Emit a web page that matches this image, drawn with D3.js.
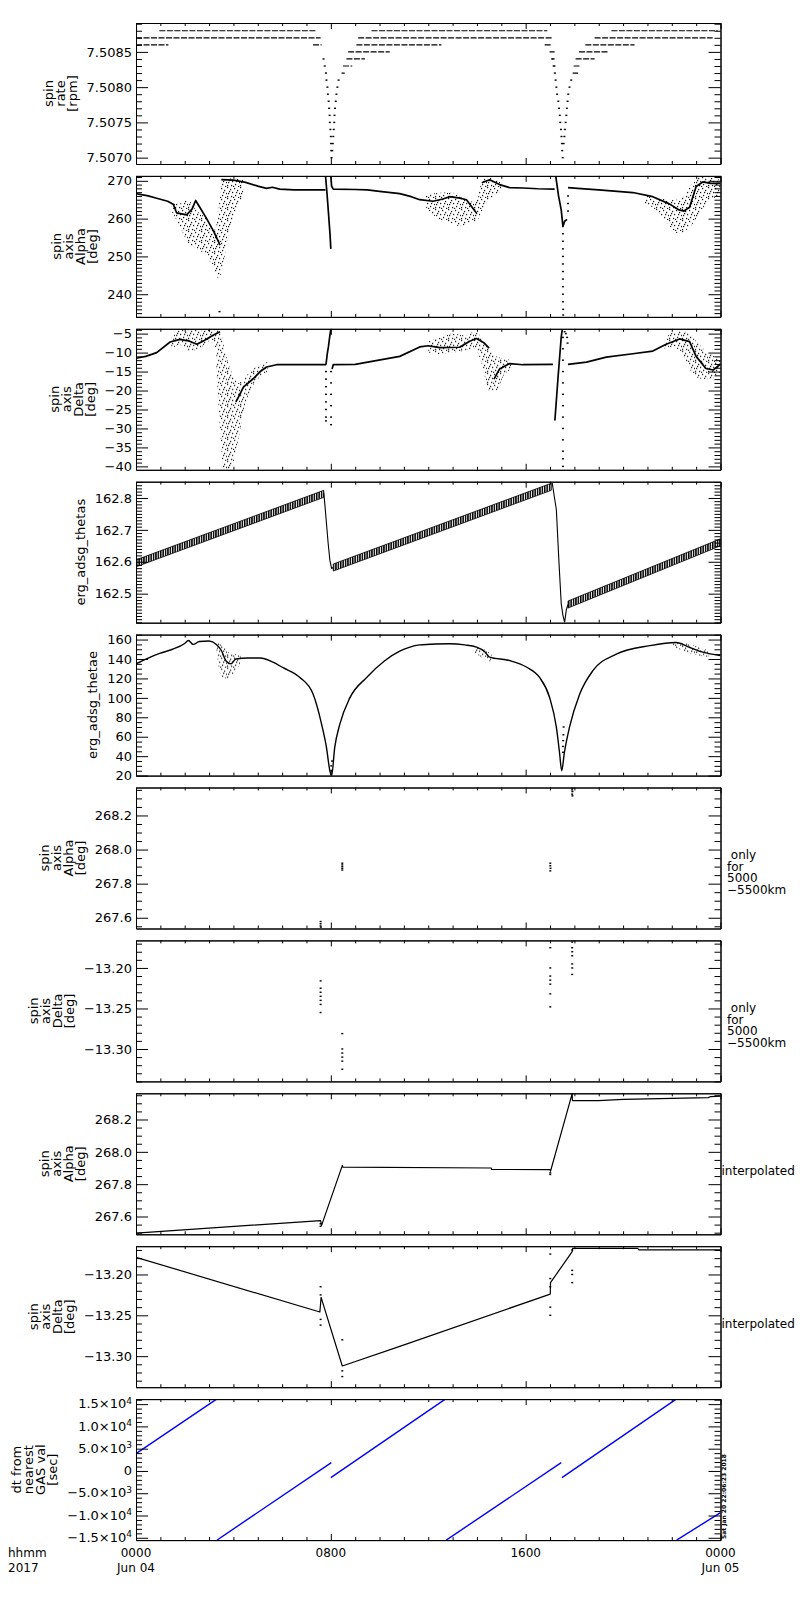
<!DOCTYPE html>
<html>
<head>
<meta charset="utf-8">
<script src="https://cdn.jsdelivr.net/npm/d3@7"></script>
<style>
  body { margin: 0; background: #fff; }
  svg text { font-family: "DejaVu Sans", sans-serif; fill: #000; }
</style>
</head>
<body>
<script>
// ---- time axis (hours of 2017-06-04) ----
var hoursMajor = [0, 8, 16, 24];
var hourLabels = ["0000", "0800", "1600", "0000"];
var dayLabels = ["Jun 04", "", "", "Jun 05"];

// ---- panel 1 : spin rate, quantized levels [start h, end h, rpm] ----
var rateLevels = [
  [0.96, 7.38, 7.5088], [9.67, 16.89, 7.5088], [19.52, 23.88, 7.5088],
  [0, 7.58, 7.5087], [9.12, 17.08, 7.5087], [18.83, 23.68, 7.5087],
  [0, 1.33, 7.5086], [7.27, 7.62, 7.5086], [9.05, 12.54, 7.5086], [16.78, 17.09, 7.5086], [18.45, 20.47, 7.5086],
  [8.71, 10.42, 7.5085], [16.98, 17.19, 7.5085], [18.19, 19.42, 7.5085],
  [8.64, 9.40, 7.5084], [17.09, 17.19, 7.5084], [18.05, 18.83, 7.5084],
  [8.50, 8.88, 7.5083], [17.15, 17.23, 7.5083], [17.97, 18.21, 7.5083],
  [8.44, 8.57, 7.5082], [17.93, 18.15, 7.5082]
];
var rateDipPts = [
  [7.70, 7.5084], [7.75, 7.5083], [7.80, 7.5082], [7.82, 7.5081], [7.86, 7.5080], [7.88, 7.5079],
  [7.91, 7.5078], [7.93, 7.5077], [7.95, 7.5076], [7.96, 7.5075], [7.98, 7.5074], [8.00, 7.5073],
  [8.01, 7.5072], [8.02, 7.5071], [8.03, 7.5070],
  [8.06, 7.5071], [8.08, 7.5072], [8.10, 7.5073], [8.12, 7.5074], [8.14, 7.5075], [8.15, 7.5076],
  [8.17, 7.5077], [8.20, 7.5078], [8.23, 7.5079], [8.27, 7.5080], [8.32, 7.5081],
  [17.09, 7.5084], [17.15, 7.5083], [17.20, 7.5082], [17.23, 7.5081], [17.26, 7.5080], [17.29, 7.5079],
  [17.34, 7.5078], [17.37, 7.5077], [17.40, 7.5076], [17.42, 7.5075], [17.45, 7.5074], [17.47, 7.5073],
  [17.49, 7.5072], [17.50, 7.5071], [17.52, 7.5070],
  [17.56, 7.5072], [17.59, 7.5073], [17.61, 7.5074], [17.64, 7.5075], [17.67, 7.5076], [17.69, 7.5077],
  [17.72, 7.5078], [17.75, 7.5079], [17.80, 7.5080], [17.87, 7.5081]
];

// ---- panel 2 : spin axis alpha [deg] ----
var alphaLines = [
  [[0, 266.6], [0.5, 266], [0.85, 265.4], [1.3, 264.6], [1.53, 263.8], [1.67, 261.5], [2.08, 261], [2.3, 262.5],
   [2.45, 264.8], [2.6, 263.2], [2.9, 260], [3.2, 256.5], [3.45, 253]],
  [[3.5, 270.3], [4.0, 270.2], [4.5, 269.6], [5.0, 268.6], [5.36, 268], [5.6, 268.3], [5.9, 267.8], [6.5, 267.6], [7.78, 267.6]],
  [[7.78, 271.5], [7.85, 266], [7.92, 260], [7.97, 255.5], [8.0, 252]],
  [[8.0, 271.5], [8.03, 268.6], [8.1, 267.8], [9.0, 267.7], [9.5, 267.6], [10.0, 267.2], [10.83, 266.6], [11.3, 265.8],
   [11.65, 265.0], [12.2, 264.6], [12.6, 265.2], [12.88, 265.8], [13.3, 265.4], [13.57, 265.0], [13.8, 263], [13.98, 261.5]],
  [[14.2, 269.5], [14.52, 270.3], [14.93, 269], [15.34, 268.2], [15.89, 268.1], [16.5, 267.9], [17.19, 267.8]],
  [[17.23, 271.5], [17.35, 266], [17.46, 262.3], [17.53, 257.9], [17.6, 259.3], [17.7, 259.8]],
  [[17.74, 268.2], [18.13, 268.0], [19.0, 267.6], [20.4, 266.9], [21.22, 265.8], [21.9, 263.9], [22.3, 262.3],
   [22.5, 262], [22.73, 263], [23.0, 268.5], [23.27, 269.7], [23.6, 269.3], [24, 269.4]]
];
var alphaClouds = [
  [[1.45, 262, 264], [1.8, 258, 264], [2.1, 254, 265], [2.5, 252, 262], [2.9, 250, 260], [3.25, 246, 257],
   [3.4, 244, 263], [3.55, 247, 270.6], [3.8, 256, 270.6], [4.1, 262, 270.6], [4.4, 266, 270.2]],
  [[11.9, 263, 266.5], [12.4, 260, 266.8], [12.9, 259, 267], [13.3, 258, 266], [13.7, 259, 264.5], [14.0, 259.5, 265],
   [14.2, 262, 270], [14.4, 264, 271], [14.7, 266, 270.5], [15.0, 267, 269.5]],
  [[20.9, 264, 266.5], [21.4, 262, 265.5], [21.9, 258, 265], [22.3, 256, 265], [22.6, 257, 267], [22.9, 259, 270],
   [23.2, 262, 271], [23.6, 265, 270.8], [24, 266, 270.2]]
];
var alphaPts = [
  [3.43, 235.4], [17.53, 256], [17.53, 254], [17.53, 252], [17.53, 250], [17.53, 248], [17.53, 246], [17.53, 244],
  [17.53, 242], [17.53, 240], [17.53, 238], [17.54, 236], [17.54, 234.5], [17.74, 262], [17.74, 264], [17.74, 266]
];

// ---- panel 3 : spin axis delta [deg] ----
var deltaLines = [
  [[0, -11.5], [0.4, -11], [0.85, -10], [1.4, -7.2], [1.8, -6.5], [2.2, -7.0], [2.5, -7.8], [2.8, -6.8], [3.2, -5.3], [3.45, -4.5]],
  [[4.1, -23], [4.2, -21.8], [4.41, -19.1], [4.81, -16.9], [5.1, -15], [5.36, -13.8], [5.77, -13.2], [6.45, -13.2], [7.8, -13.2]],
  [[7.8, -13.2], [7.85, -10.5], [7.9, -8.5], [7.96, -5.5], [8.0, -3.8]],
  [[8.05, -14.3], [8.1, -13.2], [9.0, -13.1], [9.8, -12.2], [10.83, -11], [11.65, -8.5], [12.0, -8.2], [12.47, -8.7],
   [13.29, -8.6], [13.7, -7], [13.98, -6.3], [14.3, -7.5], [14.5, -8.8]],
  [[14.7, -17], [14.93, -14.3], [15.34, -12.9], [15.89, -13.2], [17.12, -13.1]],
  [[17.2, -27.9], [17.33, -16.5], [17.46, -5.9], [17.5, -4]],
  [[17.74, -13.1], [18.5, -12.5], [19.31, -11.2], [20.4, -10.3], [21.22, -9.6], [21.77, -7.8], [22.32, -6.4],
   [22.73, -7.1], [23.0, -11], [23.4, -14.2], [23.7, -14.6], [24, -13]]
];
var deltaClouds = [
  [[1.45, -9, -6], [1.8, -8, -4], [2.2, -9.5, -4], [2.6, -9, -4], [3.0, -7, -4], [3.3, -9, -3.8]],
  [[3.3, -14, -3.8], [3.45, -30, -3.8], [3.6, -40.8, -8], [3.8, -40.8, -13], [4.0, -39, -16], [4.2, -33, -18],
   [4.4, -26, -17], [4.7, -20, -15], [5.0, -17, -13.5], [5.4, -15, -12.5]],
  [[12.0, -10, -7], [12.5, -10.5, -6], [13.0, -10, -5], [13.5, -9.5, -5.5], [13.9, -9, -4.5], [14.2, -13, -6],
   [14.5, -20, -9], [14.8, -20, -11], [15.1, -16, -11.5], [15.4, -14.5, -12]],
  [[21.7, -9, -6.5], [22.0, -8.5, -4.8], [22.4, -10, -4.3], [22.7, -14, -5], [23.0, -16.5, -7], [23.4, -17, -9.5],
   [23.8, -16.5, -11], [24, -15.5, -11.5]]
];
var deltaPts = [
  [7.8, -15], [7.8, -17], [7.8, -19], [7.8, -21], [7.8, -23], [7.8, -25], [7.8, -27], [7.8, -28],
  [8.01, -15], [8.01, -18], [8.01, -21], [8.01, -24], [8.01, -27], [8.01, -29],
  [17.53, -6], [17.53, -9], [17.53, -12], [17.53, -15], [17.53, -18], [17.53, -21], [17.53, -24], [17.53, -27],
  [17.53, -30], [17.53, -33], [17.53, -36], [17.53, -38], [17.53, -40],
  [17.6, -4.5], [17.65, -5], [17.7, -6], [17.72, -7.5]
];

// ---- panel 4 : erg_adsg_thetas, nutation band [h, low, high] ----
var thetasBands = [
  [[0, 162.584, 162.606], [7.71, 162.802, 162.824]],
  [[8.1, 162.571, 162.593], [17.05, 162.824, 162.846]],
  [[17.74, 162.455, 162.477], [24, 162.650, 162.672]]
];
var thetasLines = [
  [[7.71, 162.816], [7.75, 162.784], [7.89, 162.658], [7.96, 162.605], [8.03, 162.579], [8.1, 162.582]],
  [[17.09, 162.847], [17.26, 162.763], [17.37, 162.595], [17.46, 162.469], [17.53, 162.432], [17.6, 162.41],
   [17.67, 162.45], [17.74, 162.466]]
];

// ---- panel 5 : erg_adsg_thetae ----
var thetaeLine = [
  [0, 135], [0.5, 141], [1.0, 146], [1.5, 150], [2.0, 156], [2.15, 159], [2.35, 155], [2.6, 158], [3.0, 158.5],
  [3.3, 155], [3.5, 149], [3.7, 138], [3.9, 135], [4.1, 140], [4.6, 141], [5.1, 141], [5.6, 137], [6.04, 131],
  [6.73, 121], [7.27, 104], [7.62, 73], [7.82, 49], [7.96, 25], [8.03, 19.5], [8.16, 49], [8.37, 73], [8.78, 100],
  [9.47, 121], [10.2, 138], [10.83, 148], [11.65, 154.5], [12.3, 155.5], [12.88, 155.7], [13.5, 154.5],
  [13.98, 152.3], [14.3, 148], [14.52, 142], [15.34, 138.4], [16.05, 131.5], [16.57, 121], [16.98, 100.6],
  [17.26, 69.8], [17.39, 43.8], [17.48, 25], [17.59, 43.8], [17.8, 69.8], [18.22, 104], [18.76, 128],
  [19.72, 145], [21.09, 153.7], [22.18, 157], [22.73, 152], [23.27, 147], [24, 143.6]
];
var thetaeClouds = [
  [[3.3, 150, 158], [3.5, 122, 155], [3.7, 120, 150], [3.9, 122, 145], [4.1, 128, 145], [4.3, 135, 143]],
  [[13.9, 147, 153], [14.3, 140, 150], [14.6, 137, 145]],
  [[22.0, 153, 158.5], [22.5, 148, 157], [23.0, 144, 153], [23.5, 142, 149]]
];
var thetaePts = [[8.02, 25], [8.02, 30], [8.05, 35], [17.53, 44], [17.53, 50], [17.54, 56], [17.55, 62], [17.56, 70]];

// ---- panel 6 / 7 : values only for 5000-5500 km ----
var alphaSelPts = [
  [7.58, 267.578], [7.58, 267.565], [7.58, 267.552], [7.59, 267.545],
  [8.47, 267.92], [8.47, 267.91], [8.47, 267.90], [8.47, 267.89], [8.47, 267.88],
  [17.01, 267.92], [17.01, 267.905], [17.02, 267.89], [17.01, 267.875],
  [17.91, 268.36], [17.91, 268.35], [17.92, 268.34], [17.91, 268.325], [17.92, 268.315]
];
var deltaSelPts = [
  [7.58, -13.216], [7.58, -13.225], [7.58, -13.23], [7.58, -13.235], [7.58, -13.24], [7.58, -13.245], [7.58, -13.255],
  [8.47, -13.281], [8.47, -13.30], [8.47, -13.305], [8.47, -13.31], [8.47, -13.315], [8.47, -13.325],
  [17.01, -13.175], [17.01, -13.20], [17.01, -13.21], [17.01, -13.215], [17.01, -13.22], [17.01, -13.232], [17.01, -13.248],
  [17.91, -13.168], [17.91, -13.175], [17.91, -13.18], [17.91, -13.185], [17.91, -13.195], [17.91, -13.2], [17.91, -13.208]
];

// ---- panel 8 / 9 : interpolated ----
var alphaInterp = [
  [0, 267.497], [7.58, 267.575], [7.62, 267.545], [8.47, 267.915], [8.5, 267.905], [14.59, 267.9], [14.6, 267.891],
  [17.0, 267.89], [17.02, 267.88], [17.91, 268.36], [17.92, 268.317], [19.0, 268.317], [20.0, 268.325],
  [23.5, 268.335], [23.6, 268.342], [24, 268.344]
];
var alphaInterpPts = [[7.58, 267.54], [7.58, 267.555], [17.01, 267.87], [17.01, 267.86], [17.91, 268.36]];
var deltaInterp = [
  [0, -13.179], [7.55, -13.246], [7.6, -13.228], [8.47, -13.312], [10.83, -13.288], [17.01, -13.224],
  [17.02, -13.21], [17.91, -13.172], [17.93, -13.168], [20.6, -13.168], [20.65, -13.17], [24, -13.17]
];
var deltaInterpPts = [
  [7.58, -13.215], [7.58, -13.225], [7.58, -13.255], [7.58, -13.262], [8.47, -13.28], [8.47, -13.318], [8.47, -13.325],
  [17.01, -13.175], [17.01, -13.205], [17.01, -13.215], [17.01, -13.24], [17.01, -13.25],
  [17.91, -13.17], [17.91, -13.195], [17.91, -13.2], [17.91, -13.21]
];

// ---- panel 10 : dt from nearest GAS value [sec] ----
var dtSegments = [
  [[0, 3900], [3.31, 16130]],
  [[3.33, -15500], [8.02, 1880]],
  [[8.0, -1500], [12.70, 16130]],
  [[12.74, -15520], [17.46, 1880]],
  [[17.49, -1500], [22.18, 16130]],
  [[22.2, -15520], [24, -9350]]
];
var dtTicks = [-15000, -10000, -5000, 0, 5000, 10000, 15000];
var dtTickText = [["\u22121.5\u00d710", "4"], ["\u22121.0\u00d710", "4"], ["\u22125.0\u00d710", "3"], ["0", ""],
  ["5.0\u00d710", "3"], ["1.0\u00d710", "4"], ["1.5\u00d710", "4"]];

// ---- per panel axis settings ----
var panelTitles = [
  ["spin", "rate", "[rpm]"], ["spin", "axis", "Alpha", "[deg]"], ["spin", "axis", "Delta", "[deg]"],
  ["erg_adsg_thetas"], ["erg_adsg_thetae"],
  ["spin", "axis", "Alpha", "[deg]"], ["spin", "axis", "Delta", "[deg]"],
  ["spin", "axis", "Alpha", "[deg]"], ["spin", "axis", "Delta", "[deg]"],
  ["dt from", "nearest", "GAS val", "[sec]"]
];
var yDomains = [
  [7.50691, 7.50891], [234.0, 271.3], [-40.9, -3.73], [162.409, 162.851], [20, 165.1],
  [267.537, 268.364], [-13.340, -13.166], [267.49, 268.362], [-13.338, -13.1654], [-15520, 16130]
];
var yMajor = [
  [7.5070, 7.5075, 7.5080, 7.5085], [240, 250, 260, 270], [-40, -35, -30, -25, -20, -15, -10, -5],
  [162.5, 162.6, 162.7, 162.8], [20, 40, 60, 80, 100, 120, 140, 160], [267.6, 267.8, 268.0, 268.2],
  [-13.30, -13.25, -13.20], [267.6, 267.8, 268.0, 268.2], [-13.30, -13.25, -13.20], dtTicks
];
var yMinorStep = [0.0001, 1, 1, 0.01, 5, 0.05, 0.01, 0.05, 0.01, 1000];
var yFormats = [".4f", "d", "d", ".1f", "d", ".1f", ".2f", ".1f", ".2f", null];
var sideNotes = [null, null, null, null, null,
  ["\u00a0only", "for", "5000", "\u22125500km"], ["\u00a0only", "for", "5000", "\u22125500km"],
  ["interpolated"], ["interpolated"], null];
var stampText = "Sat Jan 20 22:06:23 2018";

// ---- layout ----
var left = 136, W = 584.5, H = 141, top0 = 23, panelStep = 152.9;

var svg = d3.select("body").append("svg")
  .attr("width", 800).attr("height", 1600)
  .style("display", "block");
var defs = svg.append("defs");

// sparse, irregular dot texture for the scatter clouds
var dots = defs.append("pattern").attr("id", "scatter")
  .attr("width", 13).attr("height", 11).attr("patternUnits", "userSpaceOnUse");
[[0, 0], [7, 1], [3, 2], [10, 3], [5, 5], [12, 6], [1, 6], [8, 8], [4, 9], [11, 10], [2, 4], [9, 5], [6, 10], [0, 9]]
  .forEach(function (p) {
    dots.append("rect").attr("x", p[0]).attr("y", p[1]).attr("width", 1.2).attr("height", 1.2).attr("fill", "#000");
  });
// vertical hatch for the nutation band
defs.append("pattern").attr("id", "nut")
  .attr("width", 2.4).attr("height", 6).attr("patternUnits", "userSpaceOnUse")
  .append("rect").attr("width", 1.5).attr("height", 6).attr("fill", "#000");

var x = d3.scaleLinear().domain([0, 24]).range([0, W]);

var panelMarks = [
  { segs: rateLevels, pts: rateDipPts },
  { clouds: alphaClouds, lines: alphaLines, pts: alphaPts, lw: 1.7 },
  { clouds: deltaClouds, lines: deltaLines, pts: deltaPts, lw: 1.7 },
  { bands: thetasBands, lines: thetasLines, lw: 1.1 },
  { clouds: thetaeClouds, curve: thetaeLine, pts: thetaePts },
  { pts: alphaSelPts },
  { pts: deltaSelPts },
  { lines: [alphaInterp], pts: alphaInterpPts, lw: 1.2 },
  { lines: [deltaInterp], pts: deltaInterpPts, lw: 1.2 },
  { blue: dtSegments }
];

function minorTicks(dom, step, majors) {
  var lo = Math.min(dom[0], dom[1]), hi = Math.max(dom[0], dom[1]);
  var out = [];
  for (var k = Math.ceil(lo / step - 1e-9); k * step <= hi + 1e-12; k++) {
    var v = +(k * step).toFixed(6);
    var isMajor = majors.some(function (m) { return Math.abs(m - v) < step / 10; });
    if (!isMajor) out.push(v);
  }
  return out;
}

var xMinor = d3.range(0, 25).filter(function (h) { return hoursMajor.indexOf(h) < 0; });

function styleAxis(sel) {
  sel.attr("font-family", null).attr("font-size", null);
  sel.selectAll("path, line").attr("stroke", "#000").attr("stroke-width", 1);
}

panelMarks.forEach(function (m, i) {
  var top = top0 + i * panelStep;
  var g = svg.append("g").attr("transform", "translate(" + left + "," + top + ")");
  var y = d3.scaleLinear().domain(yDomains[i]).range([H, 0]);

  defs.append("clipPath").attr("id", "clip" + i)
    .append("rect").attr("width", W).attr("height", H);
  var plot = g.append("g").attr("clip-path", "url(#clip" + i + ")");

  var line = d3.line().x(function (d) { return x(d[0]); }).y(function (d) { return y(d[1]); });
  var area = d3.area()
    .x(function (d) { return x(d[0]); })
    .y0(function (d) { return y(d[1]); })
    .y1(function (d) { return y(d[2]); });

  if (m.clouds) {
    plot.selectAll(".cloud").data(m.clouds).enter().append("path")
      .attr("class", "cloud")
      .attr("d", area.curve(d3.curveMonotoneX))
      .attr("fill", "url(#scatter)");
  }
  if (m.bands) {
    plot.selectAll(".band").data(m.bands).enter().append("path")
      .attr("class", "band")
      .attr("d", area.curve(d3.curveLinear))
      .attr("fill", "url(#nut)")
      .attr("stroke", "#000").attr("stroke-width", 0.8);
  }
  if (m.segs) {
    plot.selectAll(".lvl").data(m.segs).enter().append("line")
      .attr("class", "lvl")
      .attr("x1", function (d) { return x(d[0]); })
      .attr("x2", function (d) { return x(d[1]); })
      .attr("y1", function (d) { return y(d[2]); })
      .attr("y2", function (d) { return y(d[2]); })
      .attr("stroke", "#000").attr("stroke-width", 1.2)
      .attr("stroke-dasharray", "6,1.5");
  }
  if (m.lines) {
    plot.selectAll(".ln").data(m.lines).enter().append("path")
      .attr("class", "ln")
      .attr("d", line)
      .attr("fill", "none").attr("stroke", "#000")
      .attr("stroke-width", m.lw || 1.2)
      .attr("stroke-linejoin", "round");
  }
  if (m.curve) {
    plot.append("path").datum(m.curve)
      .attr("d", d3.line().x(function (d) { return x(d[0]); }).y(function (d) { return y(d[1]); })
        .curve(d3.curveMonotoneX))
      .attr("fill", "none").attr("stroke", "#000").attr("stroke-width", 1.4);
  }
  if (m.pts) {
    plot.selectAll(".pt").data(m.pts).enter().append("rect")
      .attr("class", "pt")
      .attr("x", function (d) { return x(d[0]) - 1; })
      .attr("y", function (d) { return y(d[1]) - 0.7; })
      .attr("width", 2).attr("height", 1.4)
      .attr("fill", "#000");
  }
  if (m.blue) {
    plot.selectAll(".dt").data(m.blue).enter().append("path")
      .attr("class", "dt")
      .attr("d", line)
      .attr("fill", "none").attr("stroke", "#0000ff").attr("stroke-width", 1.4);
  }

  // frame with inward ticks on all four sides
  var minors = minorTicks(yDomains[i], yMinorStep[i], yMajor[i]);
  var fmt = yFormats[i] ? d3.format(yFormats[i]) : function () { return ""; };

  var axL = g.append("g").attr("class", "ylab")
    .call(d3.axisLeft(y).tickValues(yMajor[i]).tickSizeInner(-12).tickSizeOuter(0).tickPadding(4).tickFormat(fmt));
  styleAxis(axL);
  axL.selectAll("text").attr("font-size", 13);
  styleAxis(g.append("g")
    .call(d3.axisLeft(y).tickValues(minors).tickSizeInner(-6).tickSizeOuter(0).tickFormat("")));
  styleAxis(g.append("g").attr("transform", "translate(" + W + ",0)")
    .call(d3.axisRight(y).tickValues(yMajor[i]).tickSizeInner(-12).tickSizeOuter(0).tickFormat("")));
  styleAxis(g.append("g").attr("transform", "translate(" + W + ",0)")
    .call(d3.axisRight(y).tickValues(minors).tickSizeInner(-6).tickSizeOuter(0).tickFormat("")));
  styleAxis(g.append("g")
    .call(d3.axisTop(x).tickValues(hoursMajor).tickSizeInner(-6).tickSizeOuter(0).tickFormat("")));
  styleAxis(g.append("g")
    .call(d3.axisTop(x).tickValues(xMinor).tickSizeInner(-3).tickSizeOuter(0).tickFormat("")));
  styleAxis(g.append("g").attr("transform", "translate(0," + H + ")")
    .call(d3.axisBottom(x).tickValues(hoursMajor).tickSizeInner(-6).tickSizeOuter(0).tickFormat("")));
  styleAxis(g.append("g").attr("transform", "translate(0," + H + ")")
    .call(d3.axisBottom(x).tickValues(xMinor).tickSizeInner(-3).tickSizeOuter(0).tickFormat("")));

  var labelNodes = axL.selectAll("text").nodes();

  if (i === 9) {
    var lab = g.append("g");
    dtTicks.forEach(function (v, k) {
      var t = lab.append("text")
        .attr("x", -4).attr("y", y(v)).attr("dy", "0.32em")
        .attr("text-anchor", "end").attr("font-size", 13);
      t.append("tspan").text(dtTickText[k][0]);
      if (dtTickText[k][1]) {
        t.append("tspan").attr("dy", "-0.5em").attr("font-size", 9).text(dtTickText[k][1]);
      }
    });
    labelNodes = lab.selectAll("text").nodes();
  }

  // stacked rotated axis title, placed left of the tick labels
  var minX = d3.min(labelNodes, function (n) { return n.getBBox().x; });
  var lines = panelTitles[i];
  lines.forEach(function (s, k) {
    var bx = minX - 10 - (lines.length - 1 - k) * 12;
    g.append("text")
      .attr("transform", "translate(" + bx + "," + (H / 2) + ") rotate(-90)")
      .attr("text-anchor", "middle").attr("font-size", 13)
      .text(s);
  });

  // note at the right of the panel
  if (sideNotes[i]) {
    var note = sideNotes[i];
    var single = note.length === 1;
    note.forEach(function (s, k) {
      g.append("text")
        .attr("x", W + (single ? 1 : 6.5))
        .attr("y", single ? 82 : 71.5 + k * 11.7)
        .attr("font-size", 12)
        .text(s);
    });
  }

  // time labels under the last panel
  if (i === panelMarks.length - 1) {
    hoursMajor.forEach(function (h, k) {
      g.append("text").attr("x", x(h)).attr("y", H + 17)
        .attr("text-anchor", "middle").attr("font-size", 12).text(hourLabels[k]);
      if (dayLabels[k]) {
        g.append("text").attr("x", x(h)).attr("y", H + 31.5)
          .attr("text-anchor", "middle").attr("font-size", 12).text(dayLabels[k]);
      }
    });
    g.append("text").attr("x", 8 - left).attr("y", H + 17).attr("font-size", 12).text("hhmm");
    g.append("text").attr("x", 8 - left).attr("y", H + 31.5).attr("font-size", 12).text("2017");
    g.append("text")
      .attr("transform", "translate(" + (W + 5) + "," + (H - 1) + ") rotate(-90)")
      .attr("font-size", 6).attr("font-weight", "bold")
      .text(stampText);
  }
});
</script>
</body>
</html>
